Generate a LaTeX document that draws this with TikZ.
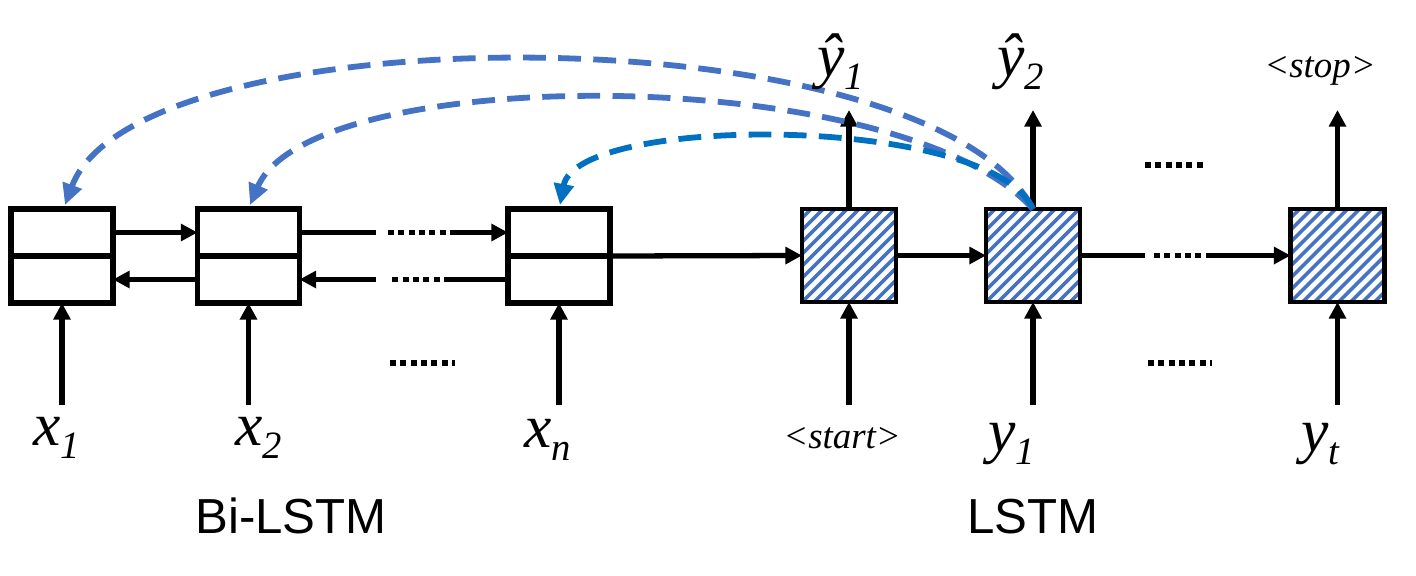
\documentclass[tikz,border=0pt]{standalone}
\usepackage{fontspec}
\setmainfont{Liberation Serif}
\newfontfamily\sansf{Liberation Sans}
\usetikzlibrary{arrows.meta,calc,backgrounds}
\definecolor{hblue}{HTML}{4472C4}
\definecolor{cblue}{HTML}{0070C0}
\newcommand{\mlab}[2]{\fontsize{35}{35}\selectfont\itshape #1\raisebox{-7.4pt}{\fontsize{22}{22}\selectfont #2}}
\newcommand{\hatchit}[1]{%
  \begin{scope}
    \clip (#1.south west) rectangle (#1.north east);
    \foreach \k in {-108,-96,...,108}{\draw[hatchline] ($(#1.south west)+(\k,0)$) -- ++(110,-110);}
  \end{scope}}
\begin{document}
\begin{tikzpicture}[x=0.02cm,y=-0.02cm,
  box/.style={draw,line width=2.9pt,minimum width=2.04cm,minimum height=0.94cm,inner sep=0,outer sep=0},
  lbox/.style={draw,line width=2.8pt,minimum width=1.88cm,minimum height=1.86cm,inner sep=0,outer sep=0},
  arr/.style={line width=3pt,-{Triangle[length=9.5pt,width=9.5pt]}},
  ln/.style={line width=3pt},
  dots/.style={line width=3.2pt,dash pattern=on 3.3pt off 2.6pt},
  curve/.style={line width=3.3pt,dash pattern=on 13pt off 7pt,-{Triangle[length=12pt,width=11pt]}},
  hatchline/.style={hblue,line width=2pt},
  lab/.style={inner sep=0,anchor=base west},
  ttl/.style={inner sep=0,anchor=base,font=\sansf\fontsize{28}{28}\selectfont}]
\useasboundingbox (0,0) rectangle (1416,575);
% Bi-LSTM cells
\node[box] (b1u) at (62,232.5) {};
\node[box] (b1l) at (62,279.5) {};
\node[box] (b2u) at (248.5,232.5) {};
\node[box] (b2l) at (248.5,279.5) {};
\node[box] (b3u) at (559,232.5) {};
\node[box] (b3l) at (559,279.5) {};
% LSTM cells
\node[lbox] (A) at (849,255.5) {};
\node[lbox] (B) at (1033,255.5) {};
\node[lbox] (C) at (1337.5,255.5) {};
\begin{pgfonlayer}{background}
  \fill[white] (0,0) rectangle (1416,575);
  \hatchit{A}\hatchit{B}\hatchit{C}
\end{pgfonlayer}
% coordinates
\coordinate (u1) at (376,232.5);
\coordinate (u2) at (388,232.5);
\coordinate (u3) at (450,232.5);
\coordinate (l1) at (376,279.5);
\coordinate (l2) at (388,279.5);
\coordinate (l3) at (450,279.5);
\coordinate (r1) at (1145,255.5);
\coordinate (r2) at (1154,255.5);
\coordinate (r3) at (1212,255.5);
% horizontal connections
\draw[arr] (b1u.east) -- (b2u.west);
\draw[arr] (b2l.west) -- (b1l.east);
\draw[ln] (b2u.east) -- (u1);
\draw[dots] (u2) -- (u3);
\draw[arr] (u3) -- (b3u.west);
\draw[ln] (b3l.west) -- (l3);
\draw[dots] (l3) -- (l2);
\draw[arr] (l1) -- (b2l.east);
\draw[arr] (b3u.south east) -- (A.west);
\draw[arr] (A.east) -- (B.west);
\draw[ln] (B.east) -- (r1);
\draw[dots] (r2) -- (r3);
\draw[arr] (r3) -- (C.west);
% outputs
\coordinate (oA) at (849,110);
\coordinate (oB) at (1033,110);
\coordinate (oC) at (1337.5,110);
\draw[arr] (A.north) -- (oA);
\draw[arr] (B.north) -- (oB);
\draw[arr] (C.north) -- (oC);
% inputs
\coordinate (i1) at (62,405);
\coordinate (i2) at (248.5,405);
\coordinate (i3) at (559,405);
\coordinate (iA) at (849,405);
\coordinate (iB) at (1033,405);
\coordinate (iC) at (1337.5,405);
\draw[arr] (i1) -- (b1l.south);
\draw[arr] (i2) -- (b2l.south);
\draw[arr] (i3) -- (b3l.south);
\draw[arr] (iA) -- (A.south);
\draw[arr] (iB) -- (B.south);
\draw[arr] (iC) -- (C.south);
% standalone dots
\coordinate (s1a) at (390,363); \coordinate (s1b) at (455,363);
\coordinate (s2a) at (1148,363); \coordinate (s2b) at (1212,363);
\coordinate (s3a) at (1145,165); \coordinate (s3b) at (1207,165);
\draw[dots] (s1a) -- (s1b);
\draw[dots] (s2a) -- (s2b);
\draw[dots] (s3a) -- (s3b);
% attention curves
\coordinate (t1) at (65,205);
\coordinate (t2) at (250,205);
\coordinate (t3) at (560,205);
\draw[curve,hblue] (B.north) .. controls (930,11) and (137,11) .. (t1);
\draw[curve,hblue] (B.north) .. controls (900,62) and (311,62) .. (t2);
\draw[curve,cblue] (B.north) .. controls (990,114) and (577,114) .. (t3);
% labels
\node[lab] (lx1) at (33,445) {\mlab{x}{1}};
\node[lab] (lx2) at (235,445) {\mlab{x}{2}};
\node[lab] (lxn) at (524,447) {\mlab{x}{n}};
\node[lab] (lst) at (783,448) {\fontsize{21}{21}\selectfont\itshape <start>};
\node[lab] (ly1) at (988,451) {\mlab{y}{1}};
\node[lab] (lyt) at (1301,451) {\mlab{y}{t}};
\node[lab] (lh1) at (817,76) {\mlab{ŷ}{1}};
\node[lab] (lh2) at (997,76) {\mlab{ŷ}{2}};
\node[lab] (lsp) at (1264,77) {\fontsize{21}{21}\selectfont\itshape <stop>};
\node[ttl] (tbi) at (291,533) {Bi-LSTM};
\node[ttl] (tls) at (1033,533) {LSTM};
\end{tikzpicture}
\end{document}
